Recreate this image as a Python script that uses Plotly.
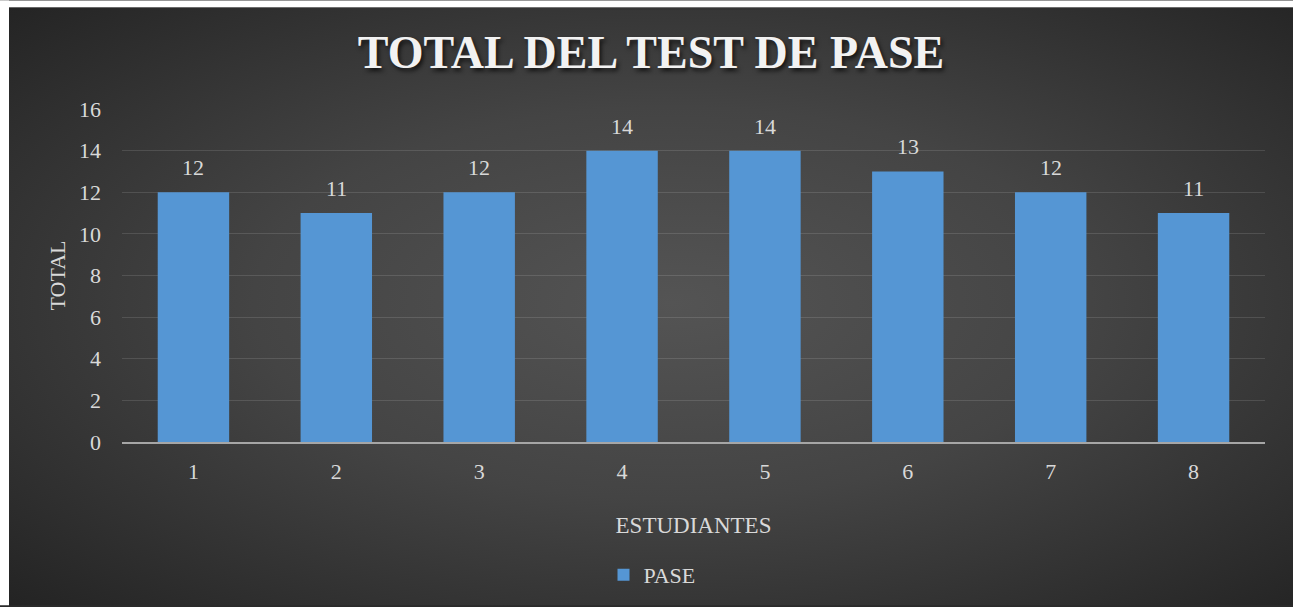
import base64
import plotly.graph_objects as go

categories = ["1", "2", "3", "4", "5", "6", "7", "8"]
pase = [12, 11, 12, 14, 14, 13, 12, 11]
y_ticks = [0, 2, 4, 6, 8, 10, 12, 14, 16]

W, H = 1293, 607
L, R, T, B = 122, 28, 109, 164
pw, ph = W - L - R, H - T - B
BX, BY = 9, 7  # white border left / top

FONT = "Liberation Serif, Times New Roman, serif"
TXT = "#d9d9d9"

svg = (f'<svg xmlns="http://www.w3.org/2000/svg" width="{W}" height="{H}" viewBox="0 0 {W} {H}" preserveAspectRatio="none">'
       '<defs><radialGradient id="g" cx="52%" cy="50%" r="72%">'
       '<stop offset="0" stop-color="#545454"/><stop offset="0.45" stop-color="#444444"/>'
       '<stop offset="1" stop-color="#232323"/></radialGradient></defs>'
       f'<rect x="0" y="0" width="{W}" height="{H}" fill="url(#g)"/>'
       f'<rect x="0" y="0" width="{BX}" height="{H}" fill="#ffffff"/>'
       f'<rect x="0" y="0" width="{W}" height="{BY}" fill="#ffffff"/></svg>')
bg_uri = "data:image/svg+xml;base64," + base64.b64encode(svg.encode()).decode()

fig = go.Figure()
fig.add_trace(go.Bar(
    x=categories, y=pase, name="PASE",
    marker=dict(color="#5596d4", line=dict(width=0)),
    hoverinfo="x+y",
))

for i, v in enumerate(pase):
    fig.add_annotation(x=i, y=v, text=str(v), showarrow=False,
                       xref="x", yref="y",
                       yanchor="bottom", yshift=10,
                       font=dict(family=FONT, size=22, color=TXT))

fig.add_layout_image(dict(
    source=bg_uri, xref="paper", yref="paper",
    x=-L / pw, y=1 + T / ph,
    sizex=W / pw, sizey=H / ph,
    xanchor="left", yanchor="top", sizing="stretch", layer="below",
))

fig.update_layout(
    width=W, height=H,
    margin=dict(l=L, r=R, t=T, b=B, pad=0),
    paper_bgcolor="#2a2a2a", plot_bgcolor="rgba(0,0,0,0)",
    bargap=0.5,
    title=dict(text="<b>TOTAL DEL TEST DE PASE</b>", x=651 / W, xanchor="center",
               y=1 - 52 / H, yanchor="middle",
               font=dict(family=FONT, size=46, color="#f2f2f2",
                         shadow="2px 3px 4px rgba(0,0,0,0.7)")),
    font=dict(family=FONT, size=22, color=TXT),
    showlegend=True,
    legend=dict(orientation="h", x=(652 - L) / pw, xanchor="center",
                y=(H - B - 575) / ph, yanchor="middle",
                font=dict(family=FONT, size=22, color=TXT),
                bgcolor="rgba(0,0,0,0)", itemwidth=30),
    xaxis=dict(type="category", range=[-0.5, len(categories) - 0.5],
               showline=True, linecolor="#a6a6a6", linewidth=2,
               showgrid=False, ticks="", ticklabelstandoff=9,
               tickfont=dict(family=FONT, size=22, color=TXT),
               title=dict(text="ESTUDIANTES", standoff=33,
                          font=dict(family=FONT, size=23, color=TXT))),
    yaxis=dict(range=[0, 16], tickvals=y_ticks, showgrid=True,
               gridcolor="rgba(255,255,255,0.12)", gridwidth=1,
               zeroline=False, showline=False, ticks="",
               ticklabelstandoff=20,
               tickfont=dict(family=FONT, size=22, color=TXT),
               title=dict(text="TOTAL", standoff=7,
                          font=dict(family=FONT, size=22, color=TXT))),
)

fig.write_html(
    "out.html",
    config={"displayModeBar": False},
    post_script=("document.body.style.margin='0';document.body.style.overflow='hidden';"
                 "document.body.style.background='#232323';"
                 "document.documentElement.style.background='#232323';"),
)
